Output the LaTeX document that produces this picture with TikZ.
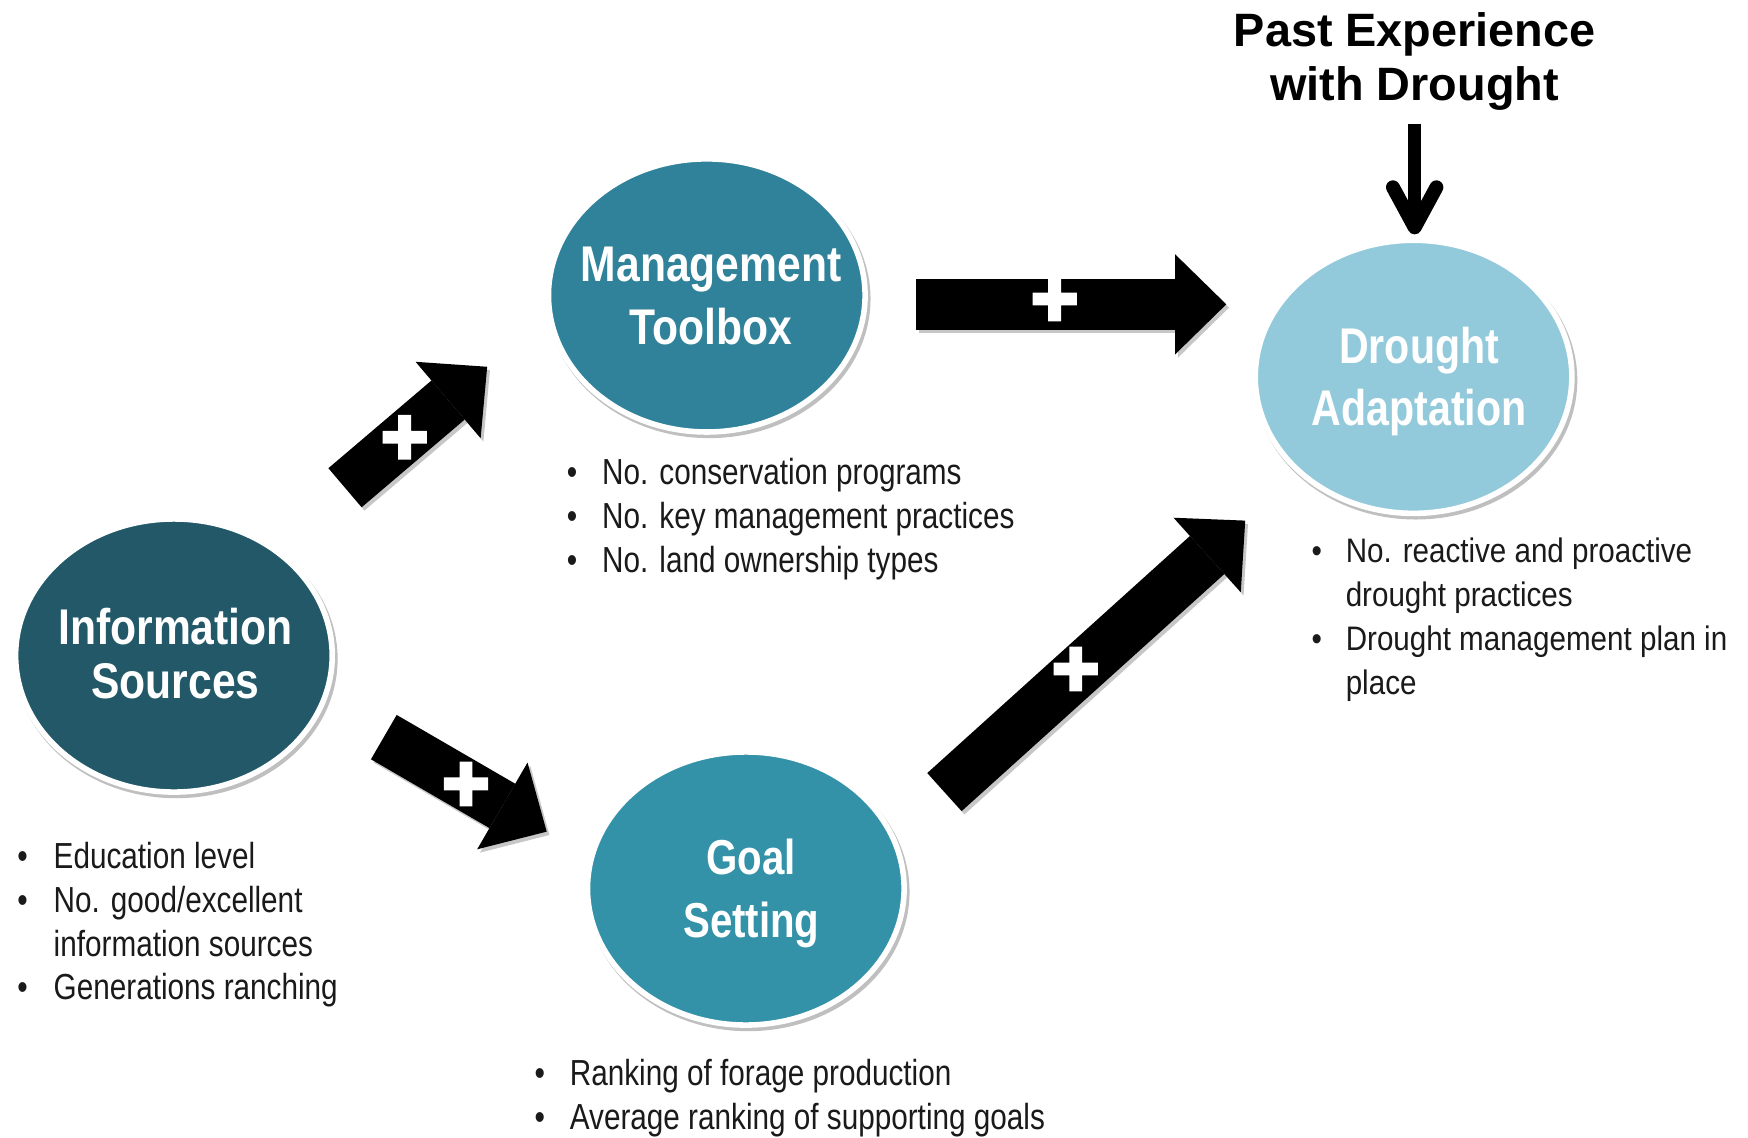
\documentclass[tikz,border=0pt]{standalone}
\usepackage{fontspec}
\setmainfont{Liberation Sans}
\newfontfamily\narrowL[FakeStretch=0.82]{Liberation Sans}
\newfontfamily\narrowA[FakeStretch=0.85]{Liberation Sans}
\newfontfamily\narrowB[FakeStretch=0.82]{Liberation Sans}
\newfontfamily\narrowC[FakeStretch=0.87]{Liberation Sans}
\newfontfamily\plusfont[FakeBold=5]{Liberation Sans Bold}
\usetikzlibrary{shapes.geometric,arrows.meta,shadows,calc}
\definecolor{cinfo}{HTML}{225868}
\definecolor{cmgmt}{HTML}{2F8299}
\definecolor{cgoal}{HTML}{3391A8}
\definecolor{cdrought}{HTML}{92CADB}
\definecolor{ctext}{HTML}{1A1A1A}
\tikzset{
  blob/.style={ellipse, draw=white, line width=5pt, inner sep=0pt,
    minimum width=284pt, minimum height=245pt,
    drop shadow={shadow xshift=2pt, shadow yshift=-3pt, shadow scale=1.02, opacity=0.25, fill=black}},
  blobtext/.style={text=white, align=center, inner sep=0pt},
  bigarrow/.style={line width=46pt, draw=black, -{Triangle[length=46pt, width=90pt, line width=0pt]}},
  bigshadow/.style={line width=46pt, draw=black, opacity=0.22, -{Triangle[length=46pt, width=90pt, line width=0pt]},
    transform canvas={xshift=2.5pt, yshift=-3pt}},
  plussign/.style={text=white, font=\plusfont\fontsize{72}{72}\selectfont, inner sep=0pt},
  blist/.style={inner sep=0pt, anchor=base west, text=ctext},
  thinarrow/.style={line width=12pt, draw=black},
  barb/.style={line width=12.5pt, draw=black, line cap=round, line join=round},
}
\begin{document}
\begin{tikzpicture}[x=1pt,y=-1pt]
\fill[white] (0,0) rectangle (1568,1020);
\useasboundingbox (0,0) rectangle (1568,1020);

% ellipses
\node[blob, fill=cinfo] (info) at (156,588) {};
\node[blob, fill=cmgmt] (mgmt) at (634,265) {};
\node[blob, fill=cgoal] (goal) at (669,797) {};
\node[blob, fill=cdrought] (drought) at (1268,338) {};

\node[blobtext, font=\narrowA\bfseries\fontsize{45}{48.5}\selectfont] (infotext) at ($(info)+(1.5,-2)$) {Information\\Sources};
\node[blobtext, font=\narrowA\bfseries\fontsize{45}{56.5}\selectfont] (mgmttext) at ($(mgmt)+(4,0.5)$) {Management\\Toolbox};
\node[blobtext, font=\narrowB\bfseries\fontsize{44}{57}\selectfont] (goaltext) at ($(goal)+(5,4.5)$) {Goal\\Setting};
\node[blobtext, font=\narrowB\bfseries\fontsize{45}{56}\selectfont] (droughttext) at ($(drought)+(5,4)$) {Drought\\Adaptation};

% past experience
\node[align=center, inner sep=0pt, font=\bfseries\fontsize{42}{49}\selectfont] (past) at (1269,55) {Past Experience\\with Drought};
\coordinate (pa1) at (1269,111);
\coordinate (pa2) at (1269,204);
\draw[thinarrow] (pa1) -- (pa2);
\draw[barb] ($(pa2)+(-19.5,-36)$) -- (pa2) -- ($(pa2)+(19.5,-36)$);

% block arrows
\coordinate (a1) at (309.5,437.5); \coordinate (a2) at (437,329);
\coordinate (b1) at (822,273);     \coordinate (b2) at (1100,273);
\coordinate (c1) at (344.3,661.2); \coordinate (c2) at (490.4,746);
\coordinate (d1) at (847.2,710.5); \coordinate (d2) at (1117,467);
\draw[bigshadow] (a1) -- (a2);
\draw[bigshadow] (b1) -- (b2);
\draw[bigshadow] (c1) -- (c2);
\draw[bigshadow] (d1) -- (d2);
\draw[bigarrow] (a1) -- (a2);
\draw[bigarrow] (b1) -- (b2);
\draw[bigarrow] (c1) -- (c2);
\draw[bigarrow] (d1) -- (d2);

\node[plussign] (pa) at (363,395) {+};
\node[plussign] (pb) at (946,271) {+};
\node[plussign] (pc) at (418,706) {+};
\node[plussign] (pd) at (965,603) {+};

% lists
\node[blist, font=\narrowL\fontsize{32.5}{39.3}\selectfont] (ilist) at (15.3,779) {%
\begin{tabular}[t]{@{}l@{}l@{}}
\makebox[32.7pt][l]{•}&Education level\\
\makebox[32.7pt][l]{•}&No. good/excellent\\
&information sources\\
\makebox[32.7pt][l]{•}&Generations ranching
\end{tabular}};

\node[blist, font=\narrowL\fontsize{32.5}{39.3}\selectfont] (mlist) at (508.3,435) {%
\begin{tabular}[t]{@{}l@{}l@{}}
\makebox[31.7pt][l]{•}&No. conservation programs\\
\makebox[31.7pt][l]{•}&No. key management practices\\
\makebox[31.7pt][l]{•}&No. land ownership types
\end{tabular}};

\node[blist, font=\narrowL\fontsize{32.5}{39.3}\selectfont] (glist) at (479.3,974) {%
\begin{tabular}[t]{@{}l@{}l@{}}
\makebox[31.7pt][l]{•}&Ranking of forage production\\
\makebox[31.7pt][l]{•}&Average ranking of supporting goals
\end{tabular}};

\node[blist, font=\narrowC\fontsize{30.5}{39.2}\selectfont] (dlist) at (1176.4,505) {%
\begin{tabular}[t]{@{}l@{}l@{}}
\makebox[30.6pt][l]{•}&No. reactive and proactive\\
&drought practices\\
\makebox[30.6pt][l]{•}&Drought management plan in\\
&place
\end{tabular}};
\end{tikzpicture}
\end{document}
